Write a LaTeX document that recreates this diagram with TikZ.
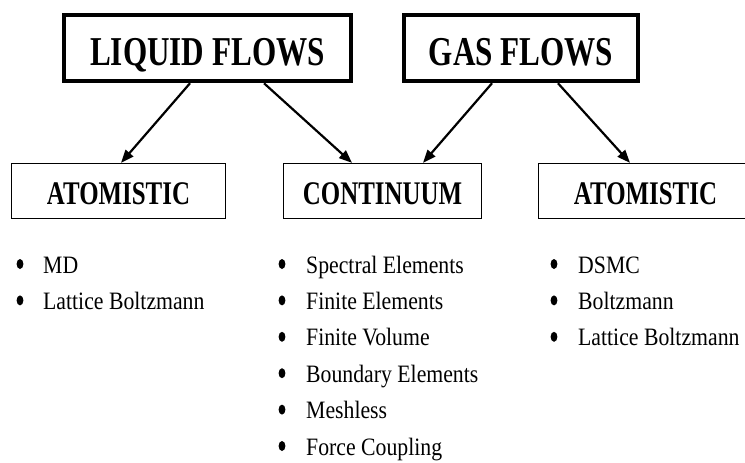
\documentclass[tikz,border=0pt]{standalone}
\usepackage{fontspec}
\setmainfont{Liberation Serif}
\usetikzlibrary{arrows.meta}
\newcommand{\hdrtext}[1]{\scalebox{0.76}[1]{\fontsize{41}{41}\selectfont\bfseries #1}}
\newcommand{\subtext}[1]{\scalebox{0.755}[1]{\fontsize{33}{33}\selectfont\bfseries #1}}
\newcommand{\itemtext}[1]{\scalebox{0.87}[1]{\fontsize{25}{25}\selectfont #1}}
\tikzset{
  hdrbox/.style={draw, line width=4.5pt, minimum height=66pt, inner sep=0pt, text height=34pt, text depth=0pt},
  subbox/.style={draw, line width=1.3pt, minimum height=55pt, inner sep=0pt, text height=26pt, text depth=0pt},
  item/.style={anchor=base west, inner sep=0pt},
  arr/.style={line width=2.2pt, -{Triangle[length=13pt,width=10pt]}},
  dot/.style={fill=black}
}
\begin{document}
\begin{tikzpicture}[x=1pt,y=-1pt]
\useasboundingbox (0,0) rectangle (745,463);
\fill[white] (0,0) rectangle (745,463);
\clip (0,0) rectangle (745,463);
% top boxes
\node[hdrbox, minimum width=287pt] (liq) at (207.5,48) {\hdrtext{LIQUID FLOWS}};
\node[hdrbox, minimum width=234pt] (gas) at (521,48) {\hdrtext{GAS FLOWS}};
% lower boxes
\node[subbox, minimum width=214pt] (atl) at (118.5,191) {\subtext{ATOMISTIC}};
\node[subbox, minimum width=198pt] (cont) at (382.5,191) {\subtext{CONTINUUM}};
\node[subbox, minimum width=220pt] (atr) at (648.6,191) {};
\node[anchor=base, inner sep=0pt] (atrt) at (645.5,204) {\subtext{ATOMISTIC}};
% arrows
\draw[arr] ([xshift=-17.5pt]liq.south) -- ([xshift=2.5pt]atl.north);
\draw[arr] ([xshift=56.5pt]liq.south) -- ([xshift=-30.5pt]cont.north);
\draw[arr] ([xshift=-29pt]gas.south) -- ([xshift=40.5pt]cont.north);
\draw[arr] ([xshift=37pt]gas.south) -- ([xshift=-18.6pt]atr.north);
% left list
\node[item] (l1) at (43,273) {\itemtext{MD}};
\node[item] (l2) at (43,309.4) {\itemtext{Lattice Boltzmann}};
\foreach \y in {273,309.4} \fill[dot] (20,\y-9) ellipse [x radius=3.4pt, y radius=5pt];
% centre list
\node[item] (c1) at (306,273) {\itemtext{Spectral Elements}};
\node[item] (c2) at (306,309.4) {\itemtext{Finite Elements}};
\node[item] (c3) at (306,345.8) {\itemtext{Finite Volume}};
\node[item] (c4) at (306,382.2) {\itemtext{Boundary Elements}};
\node[item] (c5) at (306,418.6) {\itemtext{Meshless}};
\node[item] (c6) at (306,455) {\itemtext{Force Coupling}};
\foreach \y in {273,309.4,345.8,382.2,418.6,455} \fill[dot] (282,\y-9) ellipse [x radius=3.4pt, y radius=5pt];
% right list
\node[item] (r1) at (578,273) {\itemtext{DSMC}};
\node[item] (r2) at (578,309.4) {\itemtext{Boltzmann}};
\node[item] (r3) at (578,345.8) {\itemtext{Lattice Boltzmann}};
\foreach \y in {273,309.4,345.8} \fill[dot] (554,\y-9) ellipse [x radius=3.4pt, y radius=5pt];
\end{tikzpicture}
\end{document}
